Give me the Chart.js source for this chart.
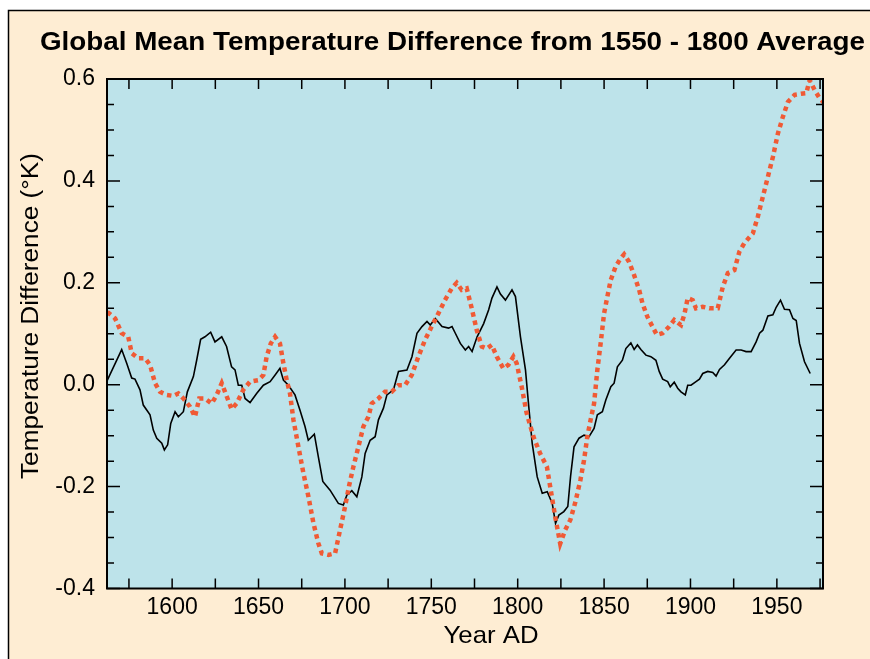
<!DOCTYPE html>
<html>
<head>
<meta charset="utf-8">
<script src="https://cdn.jsdelivr.net/npm/chart.js@4"></script>
<style>
    html, body { margin: 0; padding: 0; background: #fff; }
    #wrap { width: 870px; height: 659px; }
</style>
</head>
<body>
<div id="wrap"><canvas id="chart" width="870" height="659"></canvas></div>
<script>
// black line (solid)
const blackYears = [
    1562.5, 1570.8, 1573.7, 1576.6, 1578.5, 1581.4, 1583.3, 1587.2, 1589.1, 1591.1,
    1594.0, 1595.5, 1597.4, 1599.2, 1601.7, 1603.6, 1606.5, 1608.8, 1612.3, 1614.2,
    1616.5, 1619.0, 1622.3, 1624.8, 1628.7, 1631.5, 1634.4, 1636.4, 1638.3, 1640.3,
    1642.2, 1645.1, 1649.0, 1652.8, 1656.7, 1659.6, 1662.4, 1664.4, 1667.3, 1671.1,
    1674.0, 1676.9, 1678.8, 1682.3, 1684.6, 1687.2, 1691.4, 1696.2, 1699.1, 1701.1,
    1704.0, 1706.9, 1709.8, 1711.7, 1714.6, 1717.5, 1719.4, 1722.3, 1724.3, 1728.1,
    1731.0, 1735.9, 1738.8, 1741.7, 1744.6, 1747.5, 1749.4, 1752.3, 1756.2, 1760.0,
    1762.0, 1763.9, 1766.8, 1769.7, 1771.6, 1773.6, 1776.5, 1780.3, 1783.2, 1785.1,
    1788.0, 1790.0, 1792.9, 1796.7, 1798.7, 1801.6, 1804.5, 1806.4, 1808.4, 1811.3,
    1814.2, 1817.1, 1820.0, 1821.9, 1823.8, 1826.7, 1829.0, 1830.6, 1832.6, 1835.5,
    1838.4, 1841.3, 1844.2, 1846.1, 1849.0, 1851.0, 1853.9, 1855.8, 1857.7, 1860.6,
    1862.6, 1865.5, 1867.4, 1869.3, 1871.3, 1874.2, 1877.1, 1880.0, 1881.9, 1883.9,
    1886.8, 1888.3, 1890.6, 1892.6, 1894.5, 1897.0, 1898.4, 1900.3, 1903.2, 1905.2,
    1907.1, 1910.0, 1912.9, 1914.8, 1916.8, 1919.7, 1922.6, 1926.4, 1929.3, 1932.2,
    1935.1, 1938.0, 1940.0, 1941.9, 1944.8, 1947.7, 1949.6, 1952.1, 1954.4, 1957.3,
    1959.3, 1961.2, 1963.1, 1966.0, 1969.3,
];
const blackValues = [
    0.009, 0.069, 0.042, 0.013, 0.011, -0.010, -0.040, -0.059, -0.089, -0.105,
    -0.115, -0.128, -0.118, -0.076, -0.053, -0.063, -0.053, -0.014, 0.016, 0.048,
    0.089, 0.094, 0.103, 0.084, 0.094, 0.075, 0.035, 0.029, -0.001, -0.001,
    -0.027, -0.035, -0.017, -0.001, 0.006, 0.019, 0.032, 0.009, -0.001, -0.020,
    -0.050, -0.082, -0.109, -0.097, -0.141, -0.190, -0.207, -0.233, -0.236, -0.217,
    -0.208, -0.220, -0.181, -0.135, -0.109, -0.102, -0.069, -0.046, -0.020, -0.010,
    0.026, 0.029, 0.055, 0.101, 0.114, 0.124, 0.117, 0.130, 0.114, 0.111,
    0.114, 0.101, 0.081, 0.068, 0.075, 0.065, 0.094, 0.120, 0.147, 0.170,
    0.192, 0.178, 0.166, 0.186, 0.173, 0.094, 0.029, -0.043, -0.115, -0.181,
    -0.213, -0.210, -0.233, -0.272, -0.256, -0.249, -0.239, -0.180, -0.122, -0.105,
    -0.099, -0.102, -0.086, -0.059, -0.053, -0.030, -0.004, 0.003, 0.035, 0.048,
    0.071, 0.082, 0.069, 0.078, 0.069, 0.058, 0.055, 0.048, 0.026, 0.011,
    0.006, -0.004, 0.005, -0.007, -0.014, -0.020, -0.001, -0.001, 0.006, 0.011,
    0.022, 0.026, 0.024, 0.017, 0.030, 0.039, 0.052, 0.068, 0.068, 0.065,
    0.065, 0.084, 0.101, 0.107, 0.135, 0.137, 0.152, 0.166, 0.148, 0.147,
    0.130, 0.126, 0.081, 0.045, 0.022,
];

// red line (dotted)
const redYears = [
    1562.5, 1567.0, 1570.8, 1574.6, 1576.6, 1580.4, 1584.3, 1587.2, 1590.1, 1593.0,
    1596.8, 1600.6, 1603.6, 1606.5, 1610.3, 1613.2, 1615.7, 1619.0, 1622.9, 1625.8,
    1628.7, 1630.6, 1634.4, 1637.3, 1641.2, 1645.1, 1649.9, 1652.8, 1654.7, 1657.1,
    1659.6, 1662.4, 1664.4, 1666.3, 1668.2, 1670.2, 1673.1, 1676.0, 1678.9, 1681.8,
    1684.6, 1686.6, 1690.5, 1694.3, 1697.2, 1700.1, 1702.5, 1704.9, 1707.8, 1710.7,
    1713.6, 1715.5, 1719.4, 1723.2, 1727.1, 1730.9, 1734.8, 1738.7, 1742.5, 1746.4,
    1750.2, 1754.1, 1757.9, 1761.8, 1764.7, 1767.6, 1770.5, 1773.4, 1776.3, 1779.2,
    1782.1, 1785.0, 1787.9, 1791.7, 1794.6, 1797.5, 1799.4, 1802.3, 1805.2, 1809.1,
    1813.0, 1816.9, 1818.8, 1821.7, 1824.6, 1827.5, 1830.5, 1833.4, 1836.3, 1838.4,
    1840.3, 1842.2, 1844.2, 1846.1, 1848.0, 1850.0, 1851.9, 1853.8, 1856.7, 1859.6,
    1861.6, 1864.5, 1867.4, 1870.3, 1872.2, 1875.1, 1878.0, 1880.5, 1883.8, 1887.7,
    1890.6, 1894.5, 1896.4, 1898.4, 1901.3, 1903.2, 1907.1, 1910.9, 1915.8, 1918.7,
    1921.6, 1925.4, 1928.3, 1931.2, 1936.1, 1939.0, 1941.9, 1944.8, 1947.7, 1950.6,
    1953.5, 1956.4, 1960.3, 1964.1, 1967.0, 1969.0, 1971.9, 1974.8, 1977.7,
];
const redValues = [
    0.143, 0.130, 0.101, 0.094, 0.062, 0.052, 0.052, 0.039, 0.003, -0.014,
    -0.020, -0.022, -0.017, -0.027, -0.043, -0.063, -0.027, -0.027, -0.037, -0.020,
    0.003, -0.014, -0.048, -0.037, -0.010, 0.006, 0.009, 0.019, 0.055, 0.081,
    0.094, 0.081, 0.042, 0.009, -0.017, -0.069, -0.122, -0.174, -0.220, -0.272,
    -0.311, -0.331, -0.334, -0.331, -0.285, -0.239, -0.197, -0.161, -0.122, -0.082,
    -0.063, -0.037, -0.027, -0.014, -0.014, -0.001, -0.001, 0.019, 0.055, 0.088,
    0.114, 0.140, 0.166, 0.189, 0.200, 0.186, 0.189, 0.150, 0.107, 0.075,
    0.071, 0.078, 0.055, 0.032, 0.039, 0.055, 0.042, -0.004, -0.056, -0.102,
    -0.135, -0.161, -0.200, -0.259, -0.312, -0.285, -0.265, -0.230, -0.187, -0.148,
    -0.102, -0.069, -0.037, 0.029, 0.081, 0.140, 0.173, 0.205, 0.232, 0.248,
    0.256, 0.241, 0.215, 0.186, 0.160, 0.133, 0.114, 0.098, 0.101, 0.114,
    0.127, 0.117, 0.137, 0.170, 0.166, 0.150, 0.153, 0.150, 0.150, 0.192,
    0.219, 0.225, 0.261, 0.278, 0.297, 0.330, 0.369, 0.408, 0.447, 0.493,
    0.526, 0.555, 0.569, 0.571, 0.572, 0.598, 0.578, 0.562, 0.552,
];

// ticks (every 25 years on x, every 0.05 on y; labels every 50 / 0.2)
const xTickYears = [1575, 1600, 1625, 1650, 1675, 1700, 1725, 1750, 1775, 1800, 1825, 1850, 1875, 1900, 1925, 1950, 1975];
const yTickValues = [-0.4, -0.35, -0.3, -0.25, -0.2, -0.15, -0.1, -0.05, 0, 0.05, 0.1, 0.15, 0.2, 0.25, 0.3, 0.35, 0.4, 0.45, 0.5, 0.55, 0.6];

const TITLE = 'Global Mean Temperature Difference from 1550 - 1800 Average';
const X_TITLE = 'Year AD';
const Y_TITLE = 'Temperature Difference (°K)';

const CREAM = '#FEEDD3';
const BLUE = '#BDE3EA';
const RED = '#F05A35';
const FONT = '"Liberation Sans", Arial, Helvetica, sans-serif';

const isMajorY = (v) => Math.abs(v * 5 - Math.round(v * 5)) < 1e-6;

const toPoints = (xs, ys) => xs.map((x, i) => ({ x: x, y: ys[i] }));

// draw centred text, stretched to a given width
function fitText(ctx, text, width) {
    const w = ctx.measureText(text).width;
    ctx.save();
    ctx.scale(width / w, 1);
    ctx.fillText(text, 0, 0);
    ctx.restore();
}

const framePlugin = {
    id: 'frame',
    beforeDraw(chart) {
        const { ctx, chartArea: a } = chart;
        ctx.save();
        ctx.fillStyle = '#fff';
        ctx.fillRect(0, 0, chart.width, chart.height);
        ctx.fillStyle = CREAM;
        ctx.fillRect(8, 10, chart.width - 8, chart.height - 10);
        ctx.strokeStyle = '#000';
        ctx.lineWidth = 1.5;
        ctx.beginPath();
        ctx.moveTo(8.5, chart.height);
        ctx.lineTo(8.5, 10.5);
        ctx.lineTo(chart.width, 10.5);
        ctx.stroke();
        ctx.fillStyle = BLUE;
        ctx.fillRect(a.left, a.top, a.right - a.left, a.bottom - a.top);
        ctx.restore();
    },
    afterDatasetsDraw(chart) {
        const { ctx, chartArea: a } = chart;
        const x = chart.scales.x;
        const y = chart.scales.y;
        ctx.save();
        ctx.strokeStyle = '#000';
        ctx.lineWidth = 1.5;
        ctx.beginPath();
        x.ticks.forEach((t) => {
            const px = x.getPixelForValue(t.value);
            ctx.moveTo(px, a.bottom);
            ctx.lineTo(px, a.bottom - 10);
            ctx.moveTo(px, a.top);
            ctx.lineTo(px, a.top + 10);
        });
        y.ticks.forEach((t) => {
            const py = y.getPixelForValue(t.value);
            const len = isMajorY(t.value) ? 13 : 7;
            ctx.moveTo(a.left, py);
            ctx.lineTo(a.left + len, py);
            ctx.moveTo(a.right, py);
            ctx.lineTo(a.right - len, py);
        });
        ctx.stroke();
        ctx.lineWidth = 2;
        ctx.strokeRect(a.left, a.top, a.right - a.left, a.bottom - a.top);

        // titles
        ctx.fillStyle = '#000';
        ctx.textAlign = 'center';
        ctx.textBaseline = 'alphabetic';

        ctx.save();
        ctx.font = 'bold 25px ' + FONT;
        ctx.translate(452.5, 49.5);
        fitText(ctx, TITLE, 825);
        ctx.restore();

        ctx.save();
        ctx.font = '24px ' + FONT;
        ctx.translate(491, 643);
        fitText(ctx, X_TITLE, 95);
        ctx.restore();

        ctx.save();
        ctx.font = '23px ' + FONT;
        ctx.translate(38, 316);
        ctx.rotate(-Math.PI / 2);
        fitText(ctx, Y_TITLE, 326);
        ctx.restore();

        ctx.restore();
    },
};

new Chart(document.getElementById('chart'), {
    type: 'line',
    data: {
        datasets: [
            {
                label: 'red',
                data: toPoints(redYears, redValues),
                borderColor: RED,
                borderWidth: 4.5,
                borderDash: [4.5, 4],
                borderCapStyle: 'butt',
                pointRadius: 0,
                tension: 0,
                fill: false,
                order: 0,
            },
            {
                label: 'black',
                data: toPoints(blackYears, blackValues),
                borderColor: '#000',
                borderWidth: 1.6,
                pointRadius: 0,
                tension: 0,
                fill: false,
                order: 1,
            },
        ],
    },
    options: {
        responsive: false,
        animation: false,
        devicePixelRatio: 1,
        layout: {
            padding: { top: 79, right: 47, bottom: 0, left: 0 },
        },
        plugins: {
            legend: { display: false },
            tooltip: { enabled: false },
            title: { display: false },
        },
        scales: {
            x: {
                type: 'linear',
                min: 1562.3,
                max: 1976.7,
                afterBuildTicks: (scale) => {
                    scale.ticks = xTickYears.map((v) => ({ value: v }));
                },
                afterFit: (scale) => {
                    scale.height = 70.5;
                },
                grid: { display: false, drawTicks: false },
                border: { display: false },
                ticks: {
                    autoSkip: false,
                    maxRotation: 0,
                    minRotation: 0,
                    padding: 5,
                    color: '#000',
                    font: { family: FONT, size: 23 },
                    callback: (v) => (v % 50 === 0 ? String(v) : ''),
                },
            },
            y: {
                type: 'linear',
                min: -0.4,
                max: 0.6,
                afterBuildTicks: (scale) => {
                    scale.ticks = yTickValues.map((v) => ({ value: v }));
                },
                afterFit: (scale) => {
                    scale.width = 107;
                },
                grid: { display: false, drawTicks: false },
                border: { display: false },
                ticks: {
                    autoSkip: false,
                    padding: 12,
                    color: '#000',
                    font: { family: FONT, size: 23 },
                    callback: (v) => (isMajorY(v) ? v.toFixed(1) : ''),
                },
            },
        },
    },
    plugins: [framePlugin],
});
</script>
</body>
</html>
